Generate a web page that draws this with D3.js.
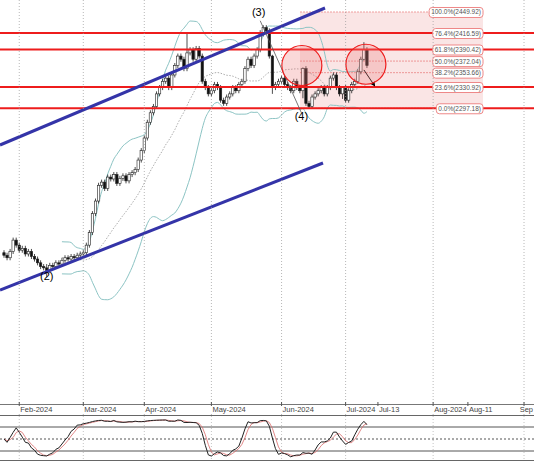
<!DOCTYPE html>
<html><head><meta charset="utf-8">
<script src="https://cdn.jsdelivr.net/npm/d3@7"></script>
<style>body{margin:0;background:#fff}text{font-family:"Liberation Sans",Arial,sans-serif}</style>
</head><body><svg id="c" width="534" height="462"></svg>
<script>
// daily closes, late Jan 2024 .. early Jul 2024
const closes = [2064,2060,2070,2088,2080,2072,2075,2066,2070,2062,2058,2052,2046,2044,2040,2048,2046,2052,2050,2056,2060,2058,2062,2060,2064,2066,2068,
  2080,2100,2130,2150,2175,2180,2170,2188,2185,2192,2178,2186,2190,2182,2192,2195,2200,2215,2230,2250,2275,2290,2300,2320,
  2330,2340,2345,2330,2350,2365,2380,2375,2360,2385,2390,2375,2392,2380,2340,2330,2320,2325,2335,2330,2310,2305,2315,2320,
  2330,2325,2335,2340,2360,2375,2365,2380,2390,2415,2425,2420,2380,2330,2335,2340,2345,2335,2330,2325,2340,2330,2325,2360,
  2305,2300,2315,2320,2325,2330,2320,2330,2345,2350,2330,2320,2330,2310,2325,2335,2340,2355,2375,2390,2365];
// extra wick length on notable bars (index -> price)
const wicks = {14:[6,10],60:[30,4],84:[6,4],88:[2,10],98:[2,12],111:[2,8],118:[12,2]};
const monthTicks = [[5,"Feb-2024"],[26,"Mar-2024"],[46,"Apr-2024"],[68,"May-2024"],[91,"Jun-2024"],[112,"Jul-2024"],[140.7,"Aug-2024"],[170.5,"Sep"]];
const minorTicks = [[122.6,"Jul-13"],[152.1,"Aug-11"]];
const fibLevels = [[100,2449.92],[76.4,2416.59],[61.8,2390.42],[50,2372.04],[38.2,2353.66],[23.6,2330.92],[0,2297.18]];
const redLevels = [2416.59,2390.42,2330.92,2297.18];

const svg = d3.select("#c");
const x = d3.scaleLinear().domain([0,1]).range([4,7.05]);
const y = d3.scaleLinear().domain([2416.59,2330.92]).range([33,87]);

const main = svg.append("g");
main.append("clipPath").attr("id","cp").append("rect").attr("width",534).attr("height",404);
const g = main.append("g").attr("clip-path","url(#cp)");

// month grid
monthTicks.forEach(([i]) => {
  svg.append("line").attr("x1",x(i)).attr("x2",x(i)).attr("y1",0).attr("y2",462)
    .attr("stroke","#999").attr("stroke-dasharray","1,2").attr("stroke-width",0.7);
});

// fib box
const fx0 = 300, fx1 = 483;
g.append("rect").attr("x",fx0).attr("y",y(2449.92)).attr("width",fx1-fx0)
  .attr("height",y(2297.18)-y(2449.92)).attr("fill","#f4c6c6").attr("opacity",0.45);
fibLevels.forEach(([p,v]) => {
  g.append("line").attr("x1",fx0).attr("x2",fx1).attr("y1",y(v)).attr("y2",y(v))
    .attr("stroke","#e87878").attr("stroke-width",0.7).attr("stroke-dasharray","2,1");
});

// bollinger bands (20, 2)
const bb = closes.map((c,i) => {
  if (i < 19) return null;
  const w = closes.slice(i-19,i+1), m = d3.mean(w), s = d3.deviation(w)*Math.sqrt(19/20);
  return {i, m, u:m+2*s, l:m-2*s};
}).filter(d => d);
const ln = k => d3.line().x(d => x(d.i)).y(d => y(d[k])).curve(d3.curveMonotoneX)(bb);
g.append("path").attr("d",ln("u")).attr("fill","none").attr("stroke","#8cc4c4");
g.append("path").attr("d",ln("l")).attr("fill","none").attr("stroke","#8cc4c4");
g.append("path").attr("d",ln("m")).attr("fill","none").attr("stroke","#888").attr("stroke-dasharray","1.5,1.5").attr("stroke-width",0.7);

// candles
closes.forEach((c,i) => {
  const o = i ? closes[i-1] : c + 4;
  const w = wicks[i] || [4,4];
  const hi = Math.max(o,c) + w[0], lo = Math.min(o,c) - w[1];
  g.append("line").attr("x1",x(i)).attr("x2",x(i)).attr("y1",y(hi)).attr("y2",y(lo)).attr("stroke","#222").attr("stroke-width",0.8);
  g.append("rect").attr("x",x(i)-1.2).attr("width",2.4)
    .attr("y",y(Math.max(o,c))).attr("height",Math.max(1,Math.abs(y(o)-y(c))))
    .attr("fill",c >= o ? "#fff" : "#111").attr("stroke","#222").attr("stroke-width",0.6);
});

// red horizontal levels
redLevels.forEach(v => {
  g.append("line").attr("x1",0).attr("x2",534).attr("y1",y(v)).attr("y2",y(v)).attr("stroke","#ee1c1c").attr("stroke-width",2);
});

// channel
g.append("line").attr("x1",0).attr("y1",145).attr("x2",325).attr("y2",8).attr("stroke","#3434a8").attr("stroke-width",3);
g.append("line").attr("x1",0).attr("y1",290).attr("x2",323).attr("y2",163).attr("stroke","#3434a8").attr("stroke-width",3);

// wave line & arrow
g.append("line").attr("x1",x(84)).attr("y1",y(2436)).attr("x2",x(97.5)).attr("y2",y(2290)).attr("stroke","#555").attr("stroke-width",0.8);
svg.append("defs").append("marker").attr("id","ar").attr("viewBox","0 0 10 10").attr("refX",8).attr("refY",5)
  .attr("markerWidth",5).attr("markerHeight",5).attr("orient","auto").append("path").attr("d","M0,0L10,5L0,10z").attr("fill","#000");
g.append("line").attr("x1",x(118)).attr("y1",y(2358)).attr("x2",x(121.5)).attr("y2",y(2333)).attr("stroke","#000").attr("stroke-width",1).attr("marker-end","url(#ar)");

// circles
[[97,2365],[118,2367]].forEach(([i,v]) => {
  g.append("circle").attr("cx",x(i)+2).attr("cy",y(v)).attr("r",20).attr("fill","#f08080").attr("fill-opacity",0.3).attr("stroke","#ee1c1c").attr("stroke-width",1.2);
});

// wave labels
[[14,2024,"(2)"],[83.5,2443,"(3)"],[97.5,2278,"(4)"]].forEach(([i,v,t]) => {
  g.append("text").attr("x",x(i)).attr("y",y(v)).attr("text-anchor","middle").attr("font-size",11).text(t);
});

// fib labels
fibLevels.forEach(([p,v]) => {
  const t = p.toFixed(1) + "%(" + v.toFixed(2) + ")";
  const lab = g.append("g");
  const tx = lab.append("text").attr("x",fx1-2).attr("y",y(v)+2.5).attr("text-anchor","end").attr("font-size",6.5).attr("fill","#555").text(t);
  const bbx = tx.node().getBBox();
  lab.insert("rect","text").attr("x",bbx.x-2).attr("y",bbx.y-1).attr("width",bbx.width+4).attr("height",bbx.height+2)
    .attr("rx",3).attr("fill","#fff").attr("stroke","#e88");
});

// x axis strip
svg.append("rect").attr("x",0).attr("y",404).attr("width",534).attr("height",10).attr("fill","#fff");
svg.append("line").attr("x1",0).attr("x2",534).attr("y1",404.5).attr("y2",404.5).attr("stroke","#777");
monthTicks.concat(minorTicks).forEach(([i,t]) => {
  svg.append("line").attr("x1",x(i)).attr("x2",x(i)).attr("y1",402).attr("y2",406).attr("stroke","#555");
  const edge = x(i) + 20 > 534;
  svg.append("text").attr("x",edge ? 533 : x(i)+1).attr("y",412).attr("text-anchor",edge ? "end" : "start")
    .attr("font-size",7.5).attr("fill","#444").text(t);
});

// stochastic panel
const sy = d3.scaleLinear().domain([0,100]).range([459,419]);
svg.append("rect").attr("x",0).attr("y",415).attr("width",534).attr("height",47).attr("fill","#fff");
svg.append("line").attr("x1",0).attr("x2",534).attr("y1",415.5).attr("y2",415.5).attr("stroke","#666");
svg.append("line").attr("x1",0).attr("x2",534).attr("y1",460.5).attr("y2",460.5).attr("stroke","#666");
monthTicks.forEach(([i]) => svg.append("line").attr("x1",x(i)).attr("x2",x(i)).attr("y1",416).attr("y2",460).attr("stroke","#aaa").attr("stroke-dasharray","1,2").attr("stroke-width",0.7));
svg.append("line").attr("x1",0).attr("x2",534).attr("y1",sy(80)).attr("y2",sy(80)).attr("stroke","#555");
svg.append("line").attr("x1",0).attr("x2",534).attr("y1",sy(20)).attr("y2",sy(20)).attr("stroke","#555");
svg.append("line").attr("x1",0).attr("x2",534).attr("y1",sy(50)).attr("y2",sy(50)).attr("stroke","#555").attr("stroke-dasharray","2,2");
const raw = closes.map((c,i) => {
  const w = closes.slice(Math.max(0,i-13),i+1), hi = d3.max(w)+4, lo = d3.min(w)-4;
  return 100*(c-lo)/(hi-lo);
});
const sm = (a,n) => a.map((_,i) => d3.mean(a.slice(Math.max(0,i-n+1),i+1)));
const K = sm(raw,3), D = sm(K,3);
const sl = d3.line().x((d,i) => x(i)).y(d => sy(d));
svg.append("path").attr("d",sl(D)).attr("fill","none").attr("stroke","#d96a6a").attr("stroke-width",0.8);
svg.append("path").attr("d",sl(K)).attr("fill","none").attr("stroke","#222").attr("stroke-width",1);
</script></body></html>
